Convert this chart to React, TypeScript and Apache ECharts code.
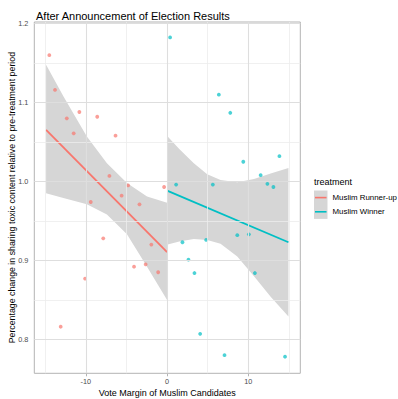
import React, { useEffect, useRef } from "react";
import * as echarts from "echarts";

// ---- data ----
const runnerUpX = [-14.5, -13.8, -12.35, -10.8, -11.5, -8.6, -6.35, -7.1, -4.8, -5.6, -9.4, -3.4, -0.37, -7.86, -1.94, -4.07, -2.64, -1.1, -10.1, -13.1];
const runnerUpY = [1.160, 1.116, 1.080, 1.088, 1.061, 1.082, 1.058, 1.007, 0.995, 0.982, 0.974, 0.971, 0.993, 0.928, 0.920, 0.892, 0.895, 0.885, 0.877, 0.816];

const winnerX = [0.37, 6.37, 7.78, 13.83, 9.38, 11.52, 1.11, 5.63, 12.35, 13.09, 1.89, 4.81, 8.64, 10.07, 2.63, 3.37, 10.81, 4.07, 7.07, 14.52];
const winnerY = [1.1825, 1.110, 1.087, 1.032, 1.025, 1.008, 0.996, 0.996, 0.997, 0.993, 0.923, 0.926, 0.932, 0.933, 0.901, 0.884, 0.884, 0.807, 0.780, 0.778];

const runnerFitX = [-14.9, 0];
const runnerFitY = [1.0655, 0.9105];
const winnerFitX = [0.07, 14.94];
const winnerFitY = [0.988, 0.923];

const runnerBandX = [-14.9, -12.77, -9.88, -7.41, -4.94, -2.47, 0];
const runnerBandHi = [1.148, 1.108, 1.057, 1.023, 0.998, 0.981, 0.973];
const runnerBandLo = [0.985, 0.979, 0.971, 0.958, 0.933, 0.892, 0.850];

const winnerBandX = [0.07, 1.5, 3.29, 4.94, 6.58, 8.64, 10.7, 12.75, 14.94];
const winnerBandHi = [1.057, 1.041, 1.023, 1.009, 1.002, 0.999, 1.003, 1.010, 1.017];
const winnerBandLo = [0.920, 0.924, 0.927, 0.926, 0.921, 0.905, 0.880, 0.854, 0.829];

const xMajor = [-10, 0, 10];
const xMinor = [-15, -5, 5, 15];
const yMajor = [0.8, 0.9, 1.0, 1.1, 1.2];
const yMinor = [0.85, 0.95, 1.05, 1.15];

const seriesNames = ["Muslim Runner-up", "Muslim Winner"];
const RED = "#F8766D";
const CYAN = "#00BFC4";
const FONT = '"Liberation Sans", Arial, Helvetica, sans-serif';

function bandSeries(xs: number[], lo: number[], hi: number[]) {
  return {
    type: "custom",
    z: 1,
    silent: true,
    clip: true,
    data: xs.map((x, i) => [x, lo[i], hi[i]]),
    renderItem: (params: any, api: any) => {
      if (params.dataIndex !== 0) return null;
      const upper = xs.map((x, i) => api.coord([x, hi[i]]));
      const lower = xs.map((x, i) => api.coord([x, lo[i]])).reverse();
      return {
        type: "polygon",
        shape: { points: upper.concat(lower) },
        style: { fill: "#d6d6d6" },
      };
    },
  };
}

export default function App() {
  const ref = useRef<HTMLDivElement>(null);
  useEffect(() => {
    document.body.style.margin = "0";
    const chart = echarts.init(ref.current!, null, { renderer: "svg" });
    const gridLine = (vals: number[], axis: "xAxis" | "yAxis", color: string, width: number) =>
      vals.map((v) => ({ [axis]: v, lineStyle: { color, width, type: "solid" } }));
    chart.setOption({
      animation: false,
      backgroundColor: "#ffffff",
      textStyle: { fontFamily: FONT },
      title: {
        text: "After Announcement of Election Results",
        left: 31,
        top: 5,
        textStyle: { fontSize: 11, fontWeight: "normal", color: "#000", fontFamily: FONT },
      },
      grid: {
        left: 34.3,
        top: 22,
        width: 266,
        height: 351.3,
        show: true,
        borderColor: "#b3b3b3",
        borderWidth: 1,
        backgroundColor: "transparent",
        containLabel: false,
        outerBoundsMode: "none",
      },
      xAxis: {
        type: "value",
        min: -16.35,
        max: 16.4,
        name: "Vote Margin of Muslim Candidates",
        nameLocation: "middle",
        nameGap: 15.5,
        nameMoveOverlap: false,
        nameTextStyle: { fontSize: 9, color: "#000", fontFamily: FONT },
        axisLine: { show: false },
        splitLine: { show: false },
        axisTick: { show: true, length: 3, customValues: xMajor, lineStyle: { color: "#b3b3b3" } },
        axisLabel: {
          customValues: xMajor,
          fontSize: 7.3,
          color: "#4d4d4d",
          margin: 5,
          fontFamily: FONT,
          formatter: (v: number) => String(v),
        },
      },
      yAxis: {
        type: "value",
        min: 0.757,
        max: 1.202,
        name: "Percentage change in sharing toxic content relative to pre-treatment period",
        nameLocation: "middle",
        nameGap: 17.5,
        nameMoveOverlap: false,
        nameTextStyle: { fontSize: 8.8, color: "#000", fontFamily: FONT },
        axisLine: { show: false },
        splitLine: { show: false },
        axisTick: { show: true, length: 3, customValues: yMajor, lineStyle: { color: "#b3b3b3" } },
        axisLabel: {
          customValues: yMajor,
          fontSize: 7.3,
          color: "#4d4d4d",
          margin: 6,
          fontFamily: FONT,
          formatter: (v: number) => v.toFixed(1),
        },
      },
      graphic: [
        {
          type: "text",
          left: 314,
          top: 177,
          style: { text: "treatment", fontSize: 9, fill: "#000", fontFamily: FONT },
        },
        { type: "rect", shape: { x: 314, y: 190.5, width: 13.5, height: 28.4 }, style: { fill: "#d6d6d6" } },
        { type: "line", shape: { x1: 315, y1: 197.6, x2: 326.5, y2: 197.6 }, style: { stroke: RED, lineWidth: 1.6 } },
        { type: "line", shape: { x1: 315, y1: 211.8, x2: 326.5, y2: 211.8 }, style: { stroke: CYAN, lineWidth: 1.6 } },
        {
          type: "text",
          x: 332.5,
          y: 197.6,
          style: { text: seriesNames[0], fontSize: 7.9, fill: "#000", fontFamily: FONT, verticalAlign: "middle" },
        },
        {
          type: "text",
          x: 332.5,
          y: 211.8,
          style: { text: seriesNames[1], fontSize: 7.9, fill: "#000", fontFamily: FONT, verticalAlign: "middle" },
        },
      ],
      series: [
        {
          type: "line",
          z: 0,
          silent: true,
          data: [],
          markLine: {
            silent: true,
            symbol: ["none", "none"],
            label: { show: false },
            animation: false,
            data: [
              ...gridLine(xMinor, "xAxis", "#ececec", 0.8),
              ...gridLine(yMinor, "yAxis", "#ececec", 0.8),
              ...gridLine(xMajor, "xAxis", "#dedede", 1.1),
              ...gridLine(yMajor, "yAxis", "#dedede", 1.1),
            ],
          },
        },
        bandSeries(runnerBandX, runnerBandLo, runnerBandHi),
        bandSeries(winnerBandX, winnerBandLo, winnerBandHi),
        {
          name: seriesNames[0],
          type: "scatter",
          z: 2,
          symbolSize: 3.8,
          itemStyle: { color: RED, opacity: 0.7 },
          data: runnerUpX.map((x, i) => [x, runnerUpY[i]]),
        },
        {
          name: seriesNames[1],
          type: "scatter",
          z: 2,
          symbolSize: 3.8,
          itemStyle: { color: CYAN, opacity: 0.7 },
          data: winnerX.map((x, i) => [x, winnerY[i]]),
        },
        {
          name: seriesNames[0],
          type: "line",
          z: 3,
          symbol: "none",
          lineStyle: { color: RED, width: 1.8 },
          data: runnerFitX.map((x, i) => [x, runnerFitY[i]]),
        },
        {
          name: seriesNames[1],
          type: "line",
          z: 3,
          symbol: "none",
          lineStyle: { color: CYAN, width: 1.8 },
          data: winnerFitX.map((x, i) => [x, winnerFitY[i]]),
        },
      ],
    });
    return () => chart.dispose();
  }, []);
  return (
    <div
      ref={ref}
      style={{ position: "fixed", left: 0, top: 0, width: 398, height: 399, background: "#fff" }}
    />
  );
}
